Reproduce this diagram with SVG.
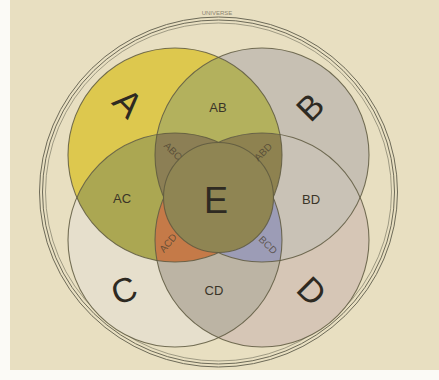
<svg xmlns="http://www.w3.org/2000/svg" width="439" height="380" viewBox="0 0 439 380">
<style>
.ln{fill:none;stroke:#5e5940;stroke-width:1.1;stroke-opacity:0.85}
.ring{fill:none;stroke:#6d6a58;stroke-width:1}
.big{font-family:"Liberation Sans",Arial,sans-serif;fill:#2e2a22;text-anchor:middle;dominant-baseline:central}
.mid{font-family:"Liberation Sans",Arial,sans-serif;fill:#3a3528;text-anchor:middle;dominant-baseline:central;font-size:13px}
.sm{font-family:"Liberation Sans",Arial,sans-serif;fill:#4a4030;fill-opacity:0.75;text-anchor:middle;dominant-baseline:central;font-size:10px}
</style>
<defs>
<clipPath id="cA"><circle cx="175" cy="155" r="107"/></clipPath>
<clipPath id="cB"><circle cx="262" cy="155" r="107"/></clipPath>
<clipPath id="cC"><circle cx="175" cy="240" r="107"/></clipPath>
<clipPath id="cD"><circle cx="262" cy="240" r="107"/></clipPath>
</defs>
<rect width="439" height="380" fill="#fbfaf6"/>
<rect x="10" y="0" width="429" height="370" fill="#e8dfc1"/>

<g id="universe">
<ellipse class="ring" cx="218.5" cy="192" rx="179" ry="175"/>
<ellipse class="ring" cx="218.5" cy="192" rx="176" ry="172"/>
<ellipse class="ring" cx="218.5" cy="192" rx="173" ry="169" stroke-opacity="0.6"/>
<text x="217" y="13" font-family="Liberation Sans,Arial,sans-serif" font-size="6" fill="#8a8470" text-anchor="middle" dominant-baseline="central">UNIVERSE</text>
</g>

<g id="regions">
<circle cx="175" cy="155" r="107" fill="#ddc84e"/>
<circle cx="262" cy="155" r="107" fill="#c7c0b3"/>
<circle cx="175" cy="240" r="107" fill="#e6dfcc"/>
<circle cx="262" cy="240" r="107" fill="#d6c6b6"/>
<g clip-path="url(#cA)"><circle cx="262" cy="155" r="107" fill="#b3b15d"/></g>
<g clip-path="url(#cA)"><circle cx="175" cy="240" r="107" fill="#aba752"/></g>
<g clip-path="url(#cB)"><circle cx="262" cy="240" r="107" fill="#c9c2b6"/></g>
<g clip-path="url(#cC)"><circle cx="262" cy="240" r="107" fill="#bcb4a4"/></g>
<g clip-path="url(#cA)"><g clip-path="url(#cB)"><circle cx="175" cy="240" r="107" fill="#8c7f55"/></g></g>
<g clip-path="url(#cA)"><g clip-path="url(#cB)"><circle cx="262" cy="240" r="107" fill="#8e8250"/></g></g>
<g clip-path="url(#cA)"><g clip-path="url(#cC)"><circle cx="262" cy="240" r="107" fill="#c57a48"/></g></g>
<g clip-path="url(#cB)"><g clip-path="url(#cC)"><circle cx="262" cy="240" r="107" fill="#9c9cb6"/></g></g>
</g>

<g id="A"><circle class="ln" cx="175" cy="155" r="107"/><text class="big" font-size="36" transform="translate(128,103) rotate(45)">A</text></g>
<g id="B"><circle class="ln" cx="262" cy="155" r="107"/><text class="big" font-size="34" transform="translate(310,107) rotate(-45)">B</text></g>
<g id="C"><circle class="ln" cx="175" cy="240" r="107"/><text class="big" font-size="34" transform="translate(124,290) rotate(-20)">C</text></g>
<g id="D"><circle class="ln" cx="262" cy="240" r="107"/><text class="big" font-size="34" transform="translate(312,291) rotate(45)">D</text></g>
<g id="E"><circle cx="218.5" cy="197.5" r="55" fill="#8f8553"/><circle class="ln" cx="218.5" cy="197.5" r="55"/><text class="big" font-size="36" x="216" y="200">E</text></g>

<g id="labels">
<text class="mid" x="218" y="107">AB</text>
<text class="mid" x="122" y="198">AC</text>
<text class="mid" x="311" y="199">BD</text>
<text class="mid" x="214" y="290">CD</text>
<text class="sm" transform="translate(173,151) rotate(45)">ABC</text>
<text class="sm" transform="translate(263,152) rotate(-45)">ABD</text>
<text class="sm" transform="translate(168,243) rotate(-50)">ACD</text>
<text class="sm" transform="translate(268,245) rotate(45)">BCD</text>
</g>
</svg>
